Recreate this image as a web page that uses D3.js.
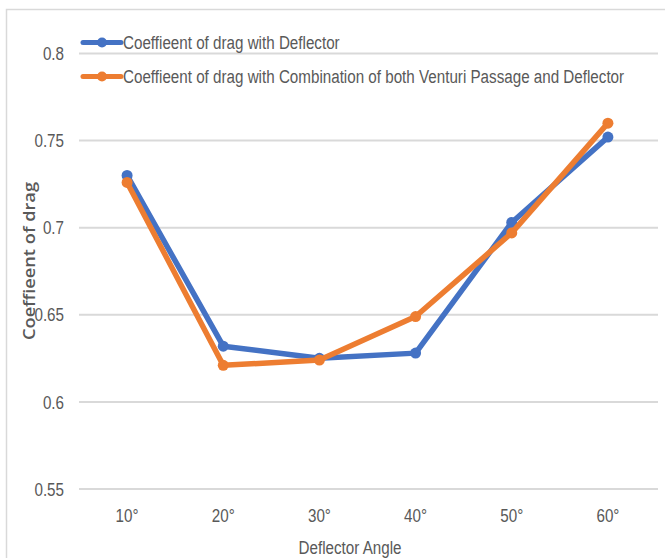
<!DOCTYPE html>
<html>
<head>
<meta charset="utf-8">
<script src="https://cdn.jsdelivr.net/npm/d3@7"></script>
<style>
  body { margin: 0; background: #fff; }
  text { font-family: "Liberation Sans", Arial, sans-serif; fill: #595959; }
</style>
</head>
<body>
<script>
// chart values
var angles = ["10°", "20°", "30°", "40°", "50°", "60°"];
var cdDeflector = [0.730, 0.632, 0.625, 0.628, 0.703, 0.752];
var cdCombined = [0.726, 0.621, 0.624, 0.649, 0.697, 0.760];
var yTicks = [0.55, 0.6, 0.65, 0.7, 0.75, 0.8];
var seriesNames = ["Coeffieent of drag with Deflector",
                   "Coeffieent of drag with Combination of both Venturi Passage and Deflector"];
var seriesColors = ["#4472C4", "#ED7D31"];

var w = 665, h = 558;
var squeeze = 0.8;   // the original text is narrow, so squash it sideways

var svg = d3.select("body").append("svg")
    .attr("width", w)
    .attr("height", h);

// chart area border
svg.append("rect")
    .attr("x", 6.5).attr("y", 9.5)
    .attr("width", 720).attr("height", 620)
    .attr("fill", "none")
    .attr("stroke", "#d9d9d9")
    .attr("stroke-width", 1.5);

var x = d3.scaleBand().domain(angles).range([79, 656]);
var y = d3.scaleLinear().domain([0.55, 0.8]).range([489, 53.5]);

// gridlines
svg.selectAll(".grid")
    .data(yTicks)
    .enter()
    .append("line")
    .attr("x1", 79).attr("x2", 658)
    .attr("y1", function(d) { return y(d); })
    .attr("y2", function(d) { return y(d); })
    .attr("stroke", "#d9d9d9")
    .attr("stroke-width", 2);

// y tick labels
svg.selectAll(".ylab")
    .data(yTicks)
    .enter()
    .append("text")
    .attr("transform", function(d) { return "translate(64," + y(d) + ") scale(" + squeeze + ",1)"; })
    .attr("dy", "0.35em")
    .attr("text-anchor", "end")
    .style("font-size", "19px")
    .text(function(d) { return d3.format("")(d); });

// x tick labels
svg.selectAll(".xlab")
    .data(angles)
    .enter()
    .append("text")
    .attr("transform", function(d) {
      return "translate(" + (x(d) + x.bandwidth() / 2) + ",515) scale(" + squeeze + ",1)";
    })
    .attr("dy", "0.35em")
    .attr("text-anchor", "middle")
    .style("font-size", "19px")
    .text(function(d) { return d; });

// axis titles
svg.append("text")
    .attr("transform", "translate(350,547) scale(" + squeeze + ",1)")
    .attr("dy", "0.35em")
    .attr("text-anchor", "middle")
    .style("font-size", "19px")
    .text("Deflector Angle");

svg.append("text")
    .attr("transform", "translate(29,261) rotate(-90)")
    .attr("dy", "0.35em")
    .attr("text-anchor", "middle")
    .attr("textLength", 158)
    .attr("lengthAdjust", "spacingAndGlyphs")
    .style("font-family", "'Open Sans', sans-serif")
    .style("font-weight", "600")
    .style("font-size", "16px")
    .text("Coeffieent of drag");

// series lines and markers
var line = d3.line()
    .x(function(d, i) { return x(angles[i]) + x.bandwidth() / 2; })
    .y(function(d) { return y(d); });

[cdDeflector, cdCombined].forEach(function(vals, k) {
  svg.append("path")
     .datum(vals)
     .attr("d", line)
     .attr("fill", "none")
     .attr("stroke", seriesColors[k])
     .attr("stroke-width", 5.5)
     .attr("stroke-linejoin", "round");

  svg.selectAll(".pt" + k)
     .data(vals)
     .enter()
     .append("circle")
     .attr("cx", function(d, i) { return x(angles[i]) + x.bandwidth() / 2; })
     .attr("cy", function(d) { return y(d); })
     .attr("r", 5.5)
     .attr("fill", seriesColors[k]);
});

// legend
var legendY = [42.5, 76.5];
seriesNames.forEach(function(name, k) {
  var g = svg.append("g");
  g.append("line")
   .attr("x1", 83).attr("x2", 121)
   .attr("y1", legendY[k]).attr("y2", legendY[k])
   .attr("stroke", seriesColors[k])
   .attr("stroke-width", 5)
   .attr("stroke-linecap", "round");
  g.append("circle")
   .attr("cx", 102).attr("cy", legendY[k])
   .attr("r", 5)
   .attr("fill", seriesColors[k]);
  g.append("text")
   .attr("transform", "translate(123," + legendY[k] + ") scale(" + squeeze + ",1)")
   .attr("dy", "0.35em")
   .style("font-size", "19px")
   .text(name);
});
</script>
</body>
</html>
